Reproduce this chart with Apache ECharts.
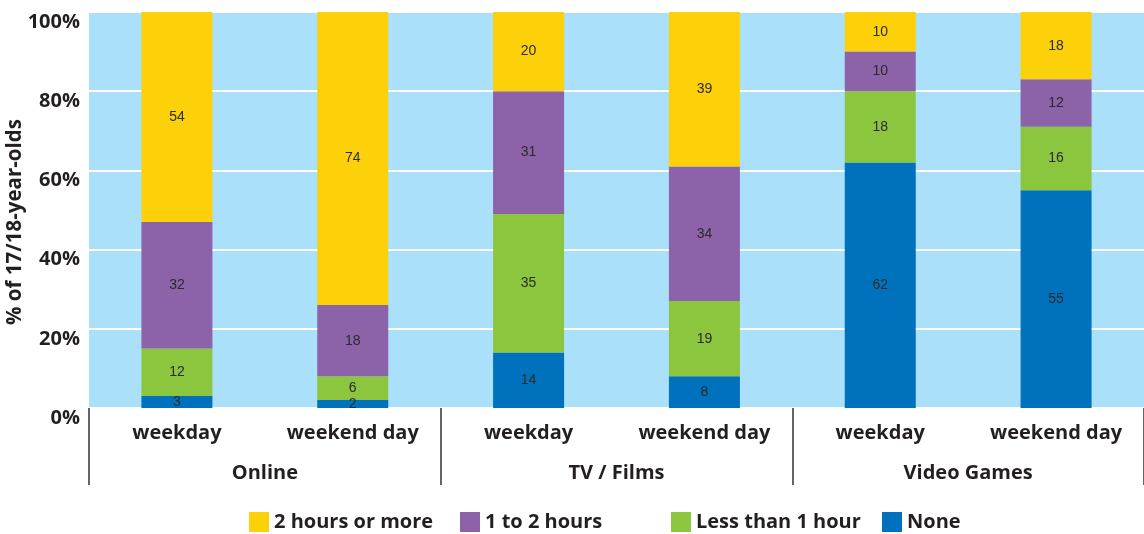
<!DOCTYPE html>
<html>
<head>
<meta charset="utf-8">
<script src="https://cdn.jsdelivr.net/npm/echarts@6/dist/echarts.min.js"></script>
<style>
html,body{margin:0;padding:0;background:#fff;}
#chart{width:1144px;height:534px;}
</style>
</head>
<body>
<div id="chart"></div>
<script>
const categories = ['weekday', 'weekend day', 'weekday', 'weekend day', 'weekday', 'weekend day'];
const groups = ['Online', 'TV / Films', 'Video Games'];
const yTicks = [0, 20, 40, 60, 80, 100];
const seriesNames = ['None', 'Less than 1 hour', '1 to 2 hours', '2 hours or more'];
const none = [3, 2, 14, 8, 62, 55];
const lessThan1 = [12, 6, 35, 19, 18, 16];
const oneToTwo = [32, 18, 31, 34, 10, 12];
const twoPlus = [54, 74, 20, 39, 10, 18];
const legendOrder = ['2 hours or more', '1 to 2 hours', 'Less than 1 hour', 'None'];
const legendLeft = [249, 460, 671, 882];
const colors = {
  'None': '#0071BC',
  'Less than 1 hour': '#8CC63F',
  '1 to 2 hours': '#8C62A9',
  '2 hours or more': '#FCD10A'
};
const seriesData = [none, lessThan1, oneToTwo, twoPlus];

const FONT = '"Open Sans", "Noto Sans", sans-serif';
const TXT = '#231f20';

const chart = echarts.init(document.getElementById('chart'), null, {renderer: 'canvas'});
chart.setOption({
  animation: false,
  backgroundColor: '#ffffff',
  grid: {
    left: 89, right: 0, top: 12, bottom: 126,
    containLabel: false,
    outerBoundsMode: 'none',
    show: true, backgroundColor: '#AAE0F9', borderWidth: 0
  },
  legend: legendOrder.map((name, i) => ({
    data: [name],
    left: legendLeft[i], top: 512,
    padding: 0,
    itemWidth: 20, itemHeight: 20, itemGap: 0,
    icon: 'rect',
    selectedMode: false,
    textStyle: {fontFamily: FONT, fontWeight: 'bold', fontSize: 20, color: TXT}
  })),
  xAxis: [
    {
      type: 'category',
      data: categories,
      position: 'bottom',
      axisLine: {show: false},
      axisTick: {show: false},
      axisLabel: {
        interval: 0, margin: 15,
        fontFamily: FONT, fontWeight: 'bold', fontSize: 20, color: TXT
      }
    },
    {
      type: 'category',
      data: groups,
      position: 'bottom',
      offset: 0,
      axisLine: {show: false},
      axisTick: {show: true, length: 77, lineStyle: {color: '#333', width: 1.5}},
      axisLabel: {
        interval: 0, margin: 55,
        fontFamily: FONT, fontWeight: 'bold', fontSize: 20, color: TXT
      },
      splitLine: {show: false}
    }
  ],
  yAxis: {
    type: 'value',
    min: yTicks[0], max: yTicks[yTicks.length - 1], interval: 20,
    name: '% of 17/18-year-olds',
    nameLocation: 'middle',
    nameGap: 63,
    nameMoveOverlap: false,
    nameTextStyle: {
      fontFamily: FONT, fontWeight: 'bold', fontSize: 20.5, color: TXT,
      padding: [0, 24, 0, 0]
    },
    axisLine: {show: false},
    axisTick: {show: false},
    axisLabel: {
      formatter: '{value}%', margin: 9, verticalAlign: 'top',
      fontFamily: FONT, fontWeight: 'bold', fontSize: 20, color: TXT
    },
    splitLine: {lineStyle: {color: '#ffffff', width: 2}}
  },
  series: seriesNames.map((name, i) => ({
    name: name,
    type: 'bar',
    stack: 'total',
    barWidth: 71,
    xAxisIndex: 0,
    itemStyle: {color: colors[name]},
    label: {
      show: true, position: 'inside', formatter: '{c}',
      fontFamily: '"Liberation Sans", Arial, sans-serif', fontSize: 14, color: '#2b2b2b'
    },
    data: seriesData[i]
  }))
});
</script>
</body>
</html>
